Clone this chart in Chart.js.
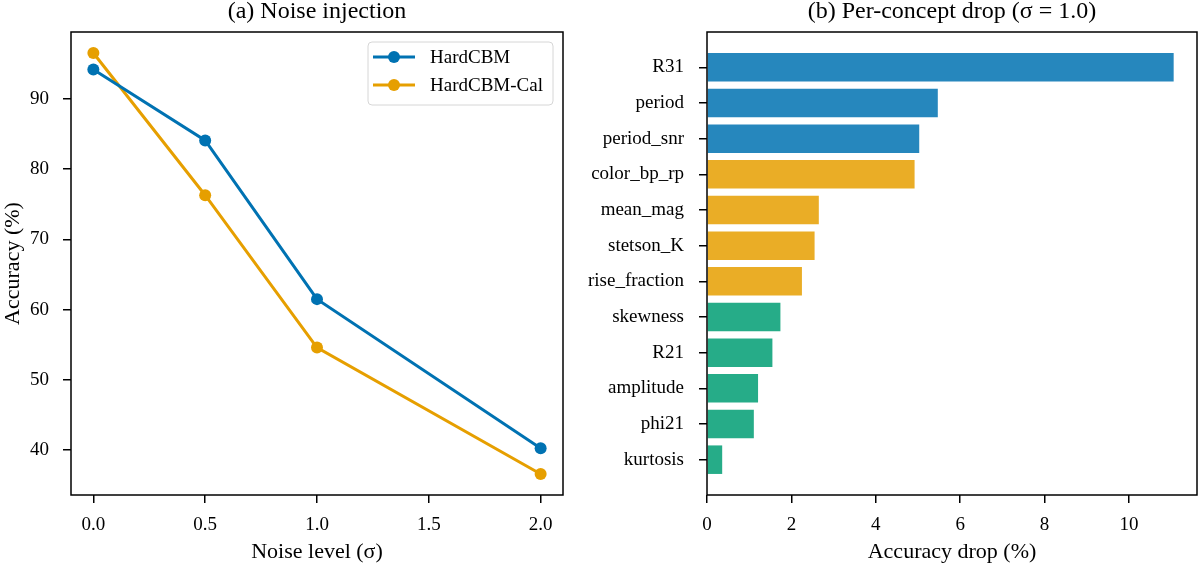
<!DOCTYPE html>
<html>
<head>
<meta charset="utf-8">
<script src="https://cdn.jsdelivr.net/npm/chart.js@4.4.1/dist/chart.umd.min.js"></script>
<style>
  body { margin: 0; background: #fff; }
  #wrap { position: relative; width: 1200px; height: 565px; }
  canvas { position: absolute; top: 0; }
  #noiseChart { left: 0; }
  #dropChart { left: 560px; }
</style>
</head>
<body>
<div id="wrap">
  <canvas id="noiseChart" width="600" height="565"></canvas>
  <canvas id="dropChart" width="640" height="565"></canvas>
</div>
<script>
// (a) noise injection
const noiseLevels = [0.0, 0.5, 1.0, 2.0];
const hardCbmAcc = [94.2, 84.1, 61.5, 40.25];
const hardCbmCalAcc = [96.55, 76.3, 54.6, 36.6];
const noiseTicks = [0, 0.5, 1.0, 1.5, 2.0];
const accTicks = [40, 50, 60, 70, 80, 90];

// (b) per-concept drop at sigma = 1.0
const concepts = ["R31", "period", "period_snr", "color_bp_rp", "mean_mag", "stetson_K",
  "rise_fraction", "skewness", "R21", "amplitude", "phi21", "kurtosis"];
const conceptDrop = [11.06, 5.47, 5.03, 4.92, 2.65, 2.55, 2.25, 1.74, 1.55, 1.21, 1.11, 0.36];
const conceptGroup = [0, 0, 0, 1, 1, 1, 1, 2, 2, 2, 2, 2];
const dropTicks = [0, 2, 4, 6, 8, 10];

const groupColors = ["rgba(0,114,178,0.85)", "rgba(230,159,0,0.85)", "rgba(0,158,115,0.85)"];
const lineColors = ["#0072B2", "#E69F00"];

Chart.defaults.font.family = "'Liberation Serif', 'DejaVu Serif', serif";
Chart.defaults.color = "#000";
Chart.defaults.animation = false;

const TICK_FONT = { size: 19 };
const LABEL_FONT = { size: 22 };
const TITLE_FONT = { size: 24, weight: "normal", lineHeight: 1 };

// matplotlib-like full box around the axes
const framePlugin = {
  id: "frame",
  afterDatasetsDraw(chart) {
    const { ctx, chartArea: a } = chart;
    ctx.save();
    ctx.strokeStyle = "#000";
    ctx.lineWidth = 1.5;
    ctx.strokeRect(a.left, a.top, a.right - a.left, a.bottom - a.top);
    ctx.restore();
  }
};

// legend drawn inside the plot, upper right
const insideLegend = {
  id: "insideLegend",
  afterDraw(chart) {
    const { ctx, chartArea } = chart;
    const w = 185, h = 63;
    const x = chartArea.right - 10 - w;
    const y = chartArea.top + 10;
    ctx.save();
    ctx.beginPath();
    ctx.roundRect(x, y, w, h, 4);
    ctx.fillStyle = "rgba(255,255,255,0.8)";
    ctx.fill();
    ctx.strokeStyle = "#d6d6d6";
    ctx.lineWidth = 1;
    ctx.stroke();
    chart.data.datasets.forEach((ds, i) => {
      const cy = y + 15 + i * 28;
      ctx.strokeStyle = ds.borderColor;
      ctx.lineWidth = ds.borderWidth;
      ctx.beginPath();
      ctx.moveTo(x + 5, cy);
      ctx.lineTo(x + 47, cy);
      ctx.stroke();
      ctx.fillStyle = ds.borderColor;
      ctx.beginPath();
      ctx.arc(x + 26, cy, ds.pointRadius, 0, Math.PI * 2);
      ctx.fill();
      ctx.fillStyle = "#000";
      ctx.font = "19px 'Liberation Serif', serif";
      ctx.textBaseline = "middle";
      ctx.fillText(ds.label, x + 62, cy + 1);
    });
    ctx.restore();
  }
};

function tickGrid() {
  return { display: true, offset: false, drawOnChartArea: false, drawTicks: true, tickLength: 8, color: "#000", lineWidth: 1.5 };
}

// left chart
const allAcc = hardCbmAcc.concat(hardCbmCalAcc);
const accMin = Math.min(...allAcc), accMax = Math.max(...allAcc);
const accPad = (accMax - accMin) * 0.05;

new Chart(document.getElementById("noiseChart"), {
  type: "line",
  data: {
    datasets: [
      {
        label: "HardCBM",
        data: noiseLevels.map((x, i) => ({ x: x, y: hardCbmAcc[i] })),
        borderColor: lineColors[0],
        backgroundColor: lineColors[0],
        borderWidth: 3,
        pointRadius: 6,
        pointBorderWidth: 0,
        tension: 0
      },
      {
        label: "HardCBM-Cal",
        data: noiseLevels.map((x, i) => ({ x: x, y: hardCbmCalAcc[i] })),
        borderColor: lineColors[1],
        backgroundColor: lineColors[1],
        borderWidth: 3,
        pointRadius: 6,
        pointBorderWidth: 0,
        tension: 0
      }
    ]
  },
  options: {
    responsive: false,
    devicePixelRatio: 1,
    layout: { padding: { left: 0, right: 37, top: 0, bottom: 0 } },
    plugins: {
      legend: { display: false },
      tooltip: { enabled: false },
      title: {
        display: true,
        text: "(a) Noise injection",
        font: TITLE_FONT,
        fullSize: false,
        padding: { top: 0, bottom: 8 }
      }
    },
    scales: {
      x: {
        type: "linear",
        min: -0.1,
        max: 2.1,
        afterBuildTicks: (scale) => { scale.ticks = noiseTicks.map(v => ({ value: v })); },
        afterFit: (scale) => { scale.height = 70; },
        ticks: { font: TICK_FONT, padding: 11, callback: (v) => Number(v).toFixed(1) },
        grid: tickGrid(),
        border: { display: false },
        title: { display: true, text: "Noise level (σ)", font: LABEL_FONT, padding: { top: 0, bottom: 0 } }
      },
      y: {
        type: "linear",
        min: accMin - accPad,
        max: accMax + accPad,
        afterBuildTicks: (scale) => { scale.ticks = accTicks.map(v => ({ value: v })); },
        afterFit: (scale) => { scale.width = 71; },
        ticks: { font: TICK_FONT, padding: 14 },
        grid: tickGrid(),
        border: { display: false },
        title: { display: true, text: "Accuracy (%)", font: LABEL_FONT, padding: 0 }
      }
    }
  },
  plugins: [framePlugin, insideLegend]
});

// right chart: horizontal bars on a linear index axis so margins match
const n = concepts.length;
const barSpan = (n - 1) + 0.8;

new Chart(document.getElementById("dropChart"), {
  type: "bar",
  data: {
    datasets: [{
      data: conceptDrop.map((v, i) => ({ x: v, y: i })),
      backgroundColor: conceptGroup.map(g => groupColors[g]),
      borderWidth: 0,
      barPercentage: 0.8,
      categoryPercentage: 1.0
    }]
  },
  options: {
    indexAxis: "y",
    responsive: false,
    devicePixelRatio: 1,
    layout: { padding: { left: 0, right: 3, top: 0, bottom: 0 } },
    plugins: {
      legend: { display: false },
      tooltip: { enabled: false },
      title: {
        display: true,
        text: "(b) Per-concept drop (σ = 1.0)",
        font: TITLE_FONT,
        fullSize: false,
        padding: { top: 0, bottom: 8 }
      }
    },
    scales: {
      x: {
        type: "linear",
        min: 0,
        max: Math.max(...conceptDrop) * 1.05,
        afterBuildTicks: (scale) => { scale.ticks = dropTicks.map(v => ({ value: v })); },
        afterFit: (scale) => { scale.height = 70; },
        ticks: { font: TICK_FONT, padding: 11 },
        grid: tickGrid(),
        border: { display: false },
        title: { display: true, text: "Accuracy drop (%)", font: LABEL_FONT, padding: { top: 0, bottom: 0 } }
      },
      y: {
        type: "linear",
        reverse: true,
        offset: false,
        min: -0.4 - 0.05 * barSpan,
        max: (n - 1) + 0.4 + 0.05 * barSpan,
        afterBuildTicks: (scale) => { scale.ticks = concepts.map((c, i) => ({ value: i })); },
        afterFit: (scale) => { scale.width = 147; },
        ticks: { font: TICK_FONT, padding: 15, callback: (v) => concepts[v] },
        grid: tickGrid(),
        border: { display: false }
      }
    }
  },
  plugins: [framePlugin]
});
</script>
</body>
</html>
